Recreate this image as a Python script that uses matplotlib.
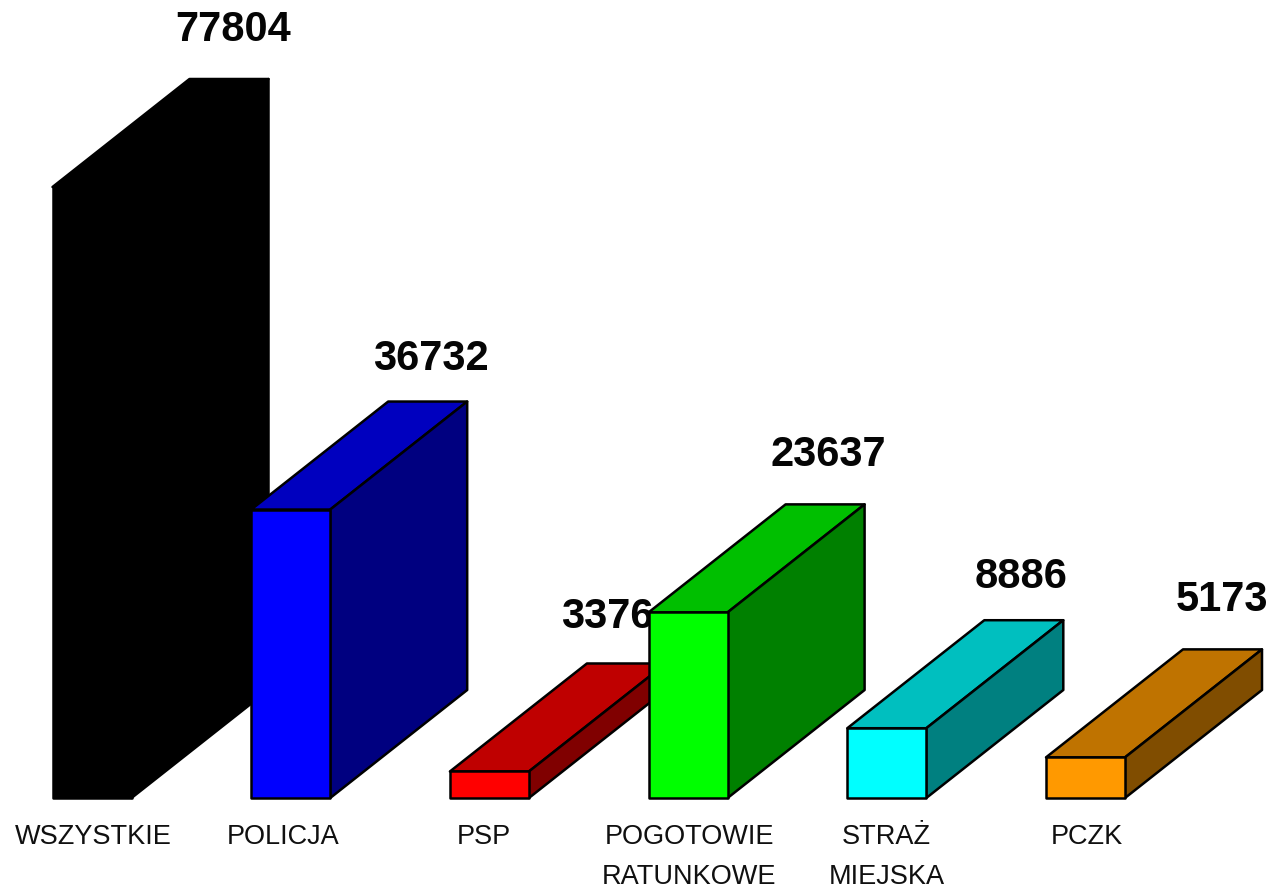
import matplotlib
matplotlib.use('Agg')
import matplotlib.pyplot as plt
from matplotlib.colors import to_rgb
from matplotlib.patches import Polygon

plt.rcParams['font.family'] = ['Liberation Sans', 'DejaVu Sans']

categories = ['WSZYSTKIE', 'POLICJA', 'PSP', 'POGOTOWIE\nRATUNKOWE', 'STRAŻ\nMIEJSKA', 'PCZK']
values = [77804, 36732, 3376, 23637, 8886, 5173]
colors = ['#000000', '#0000ff', '#ff0000', '#00ff00', '#00ffff', '#ff9900']

# nudges in pixels, the labels are not regular in the original
value_nudge = [4, 3, -19, 3, -3, -1]
value_lift = [49, 43, 46, 49, 43, 49]
cat_nudge = [1, -8, -6, 1, 0, 1]

W, H = 1272, 888
px_x = 198.7            # pixels per category
px_y = 611 / 77804      # pixels per unit
bar_w = 79 / px_x
depth_x = 137 / px_x
depth_y = 108 / px_y


def shade(color, k):
    return tuple(c * k for c in to_rgb(color))


def draw_bar(ax, x, val, color, z):
    l, r = x - bar_w / 2, x + bar_w / 2
    top = [(l, val), (r, val), (r + depth_x, val + depth_y), (l + depth_x, val + depth_y)]
    side = [(r, 0), (r + depth_x, depth_y), (r + depth_x, val + depth_y), (r, val)]
    front = [(l, 0), (r, 0), (r, val), (l, val)]
    for pts, k in [(top, 0.75), (side, 0.5), (front, 1.0)]:
        ax.add_patch(Polygon(pts, closed=True, facecolor=shade(color, k), edgecolor='black',
                             lw=1.8, joinstyle='round', zorder=z))


fig = plt.figure(figsize=(W / 100, H / 100), dpi=100)
ax = fig.add_axes([0, 0, 1, 1])
ax.set_xlim(-92 / px_x, (W - 92) / px_x)
ax.set_ylim(-(H - 798) / px_y, 798 / px_y)
ax.axis('off')

for i, (cat, val, col) in enumerate(zip(categories, values, colors)):
    draw_bar(ax, i, val, col, z=i + 1)
    ax.text(i + depth_x + value_nudge[i] / px_x, val + depth_y + value_lift[i] / px_y, str(val),
            ha='center', va='center', fontsize=30, fontweight='bold', color='#050505', zorder=i + 1)
    ax.text(i + cat_nudge[i] / px_x, -26 / px_y, cat, ha='center', va='top',
            fontsize=19.5, color='#101010', linespacing=1.71)

fig.savefig('out.png', dpi=100)
